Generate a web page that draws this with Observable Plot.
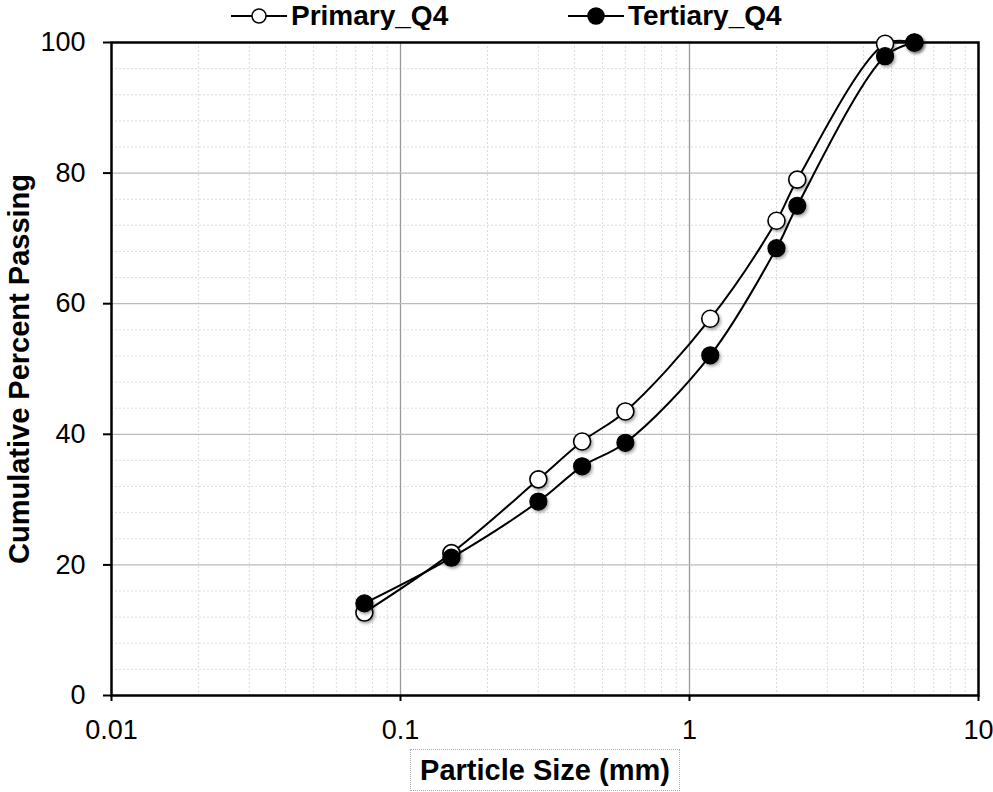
<!DOCTYPE html>
<html>
<head>
<meta charset="utf-8">
<script src="https://cdn.jsdelivr.net/npm/d3@7"></script>
<script src="https://cdn.jsdelivr.net/npm/@observablehq/plot@0.6"></script>
<style>
  html, body { margin: 0; padding: 0; background: #fff; }
  body { width: 993px; height: 792px; position: relative; overflow: hidden; font-family: "Liberation Sans", Arial, sans-serif; }
  #legend { position: absolute; left: 0; top: 0; width: 993px; height: 30px; }
  .item { position: absolute; top: 0px; height: 32px; display: flex; align-items: center; font-weight: bold; font-size: 28px; color: #000; }
  .item svg { margin-right: 4px; }
  #chart { position: absolute; left: 0; top: 30px; }
  #xlabel { position: absolute; top: 749px; left: 410px; width: 270px; height: 42px; box-sizing: border-box;
    border: 1px dotted #aaa; display: flex; align-items: center; justify-content: center;
    font-weight: bold; font-size: 29px; }
  #ytitle { position: absolute; left: 19px; top: 369px; transform: translate(-50%, -50%) rotate(-90deg);
    white-space: nowrap; font-weight: bold; font-size: 29px; }
</style>
</head>
<body>
<div id="legend"></div>
<div id="chart"></div>
<div id="ytitle">Cumulative Percent Passing</div>
<div id="xlabel">Particle Size (mm)</div>
<script>
// Data
const sizes = [0.075, 0.15, 0.3, 0.425, 0.6, 1.18, 2.0, 2.36, 4.75, 6.0];
const primaryQ4 = [12.7, 21.8, 33.1, 38.9, 43.5, 57.7, 72.7, 79.0, 99.8, 100];
const tertiaryQ4 = [14.1, 21.1, 29.7, 35.1, 38.7, 52.1, 68.5, 75.0, 97.9, 100];
const seriesNames = ["Primary_Q4", "Tertiary_Q4"];
const xTicks = [0.01, 0.1, 1, 10];
const xTickLabels = ["0.01", "0.1", "1", "10"];
const yTicks = [0, 20, 40, 60, 80, 100];

const primary = sizes.map((s, i) => ({size: s, value: primaryQ4[i], series: seriesNames[0]}));
const tertiary = sizes.map((s, i) => ({size: s, value: tertiaryQ4[i], series: seriesNames[1]}));

const minorX = [];
for (const d of [0.01, 0.1, 1]) for (let k = 2; k <= 9; k++) minorX.push(+(d * k).toPrecision(3));
const minorY = d3.range(0, 101, 4).filter(v => v % 20 !== 0);
const majorX = [0.1, 1];
const majorY = [20, 40, 60, 80];

const plot = Plot.plot({
  width: 993,
  height: 700,
  marginTop: 12,
  marginBottom: 35,
  marginLeft: 111,
  marginRight: 15,
  style: {fontFamily: "'Liberation Sans', Arial, sans-serif", background: "#fff", overflow: "visible"},
  x: {type: "log", domain: [0.01, 10]},
  y: {domain: [0, 100]},
  marks: [
    Plot.ruleX(minorX, {stroke: "#dcdcdc", strokeDasharray: "2,2", strokeWidth: 1}),
    Plot.ruleY(minorY, {stroke: "#dcdcdc", strokeDasharray: "2,2", strokeWidth: 1}),
    Plot.ruleX(majorX, {stroke: "#999", strokeWidth: 1.3}),
    Plot.ruleY(majorY, {stroke: "#bbb", strokeWidth: 1.3}),
    Plot.axisX(xTicks, {tickSize: 6, tickPadding: 18, fontSize: 27, label: null, stroke: "#000", strokeWidth: 2,
      tickFormat: (d) => xTickLabels[xTicks.indexOf(d)]}),
    Plot.axisY(yTicks, {tickSize: 8, tickPadding: 18, fontSize: 27, label: null, stroke: "#000", strokeWidth: 2}),
    Plot.frame({stroke: "#000", strokeWidth: 2.5}),
    Plot.line(primary, {x: "size", y: "value", curve: "catmull-rom", stroke: "#000", strokeWidth: 2}),
    Plot.line(tertiary, {x: "size", y: "value", curve: "catmull-rom", stroke: "#000", strokeWidth: 2}),
    Plot.dot(primary, {x: "size", y: "value", r: 8.5, fill: "#fff", stroke: "#000", strokeWidth: 1.6}),
    Plot.dot(tertiary, {x: "size", y: "value", r: 8.5, fill: "#000", stroke: "#000", strokeWidth: 1.2})
  ]
});
document.getElementById("chart").appendChild(plot);

// subtle marker shadow
const svg = d3.select(plot);
const defs = svg.insert("defs", ":first-child");
const f = defs.append("filter").attr("id", "shadow").attr("x", "-50%").attr("y", "-50%").attr("width", "200%").attr("height", "200%");
f.append("feDropShadow").attr("dx", 1.5).attr("dy", 2).attr("stdDeviation", 1.6).attr("flood-color", "#000").attr("flood-opacity", 0.35);
svg.selectAll("g[aria-label='dot']").attr("filter", "url(#shadow)");

// legend
const legend = document.getElementById("legend");
[[seriesNames[0], "#fff", 231, 7], [seriesNames[1], "#000", 568, 8]].forEach(([name, fill, left, r]) => {
  const div = document.createElement("div");
  div.className = "item";
  div.style.left = left + "px";
  div.innerHTML = `<svg width="56" height="24"><line x1="0" y1="12" x2="56" y2="12" stroke="#000" stroke-width="2"/><circle cx="28" cy="12" r="${r}" fill="${fill}" stroke="#000" stroke-width="1.5"/></svg><span>${name}</span>`;
  legend.appendChild(div);
});
</script>
</body>
</html>
